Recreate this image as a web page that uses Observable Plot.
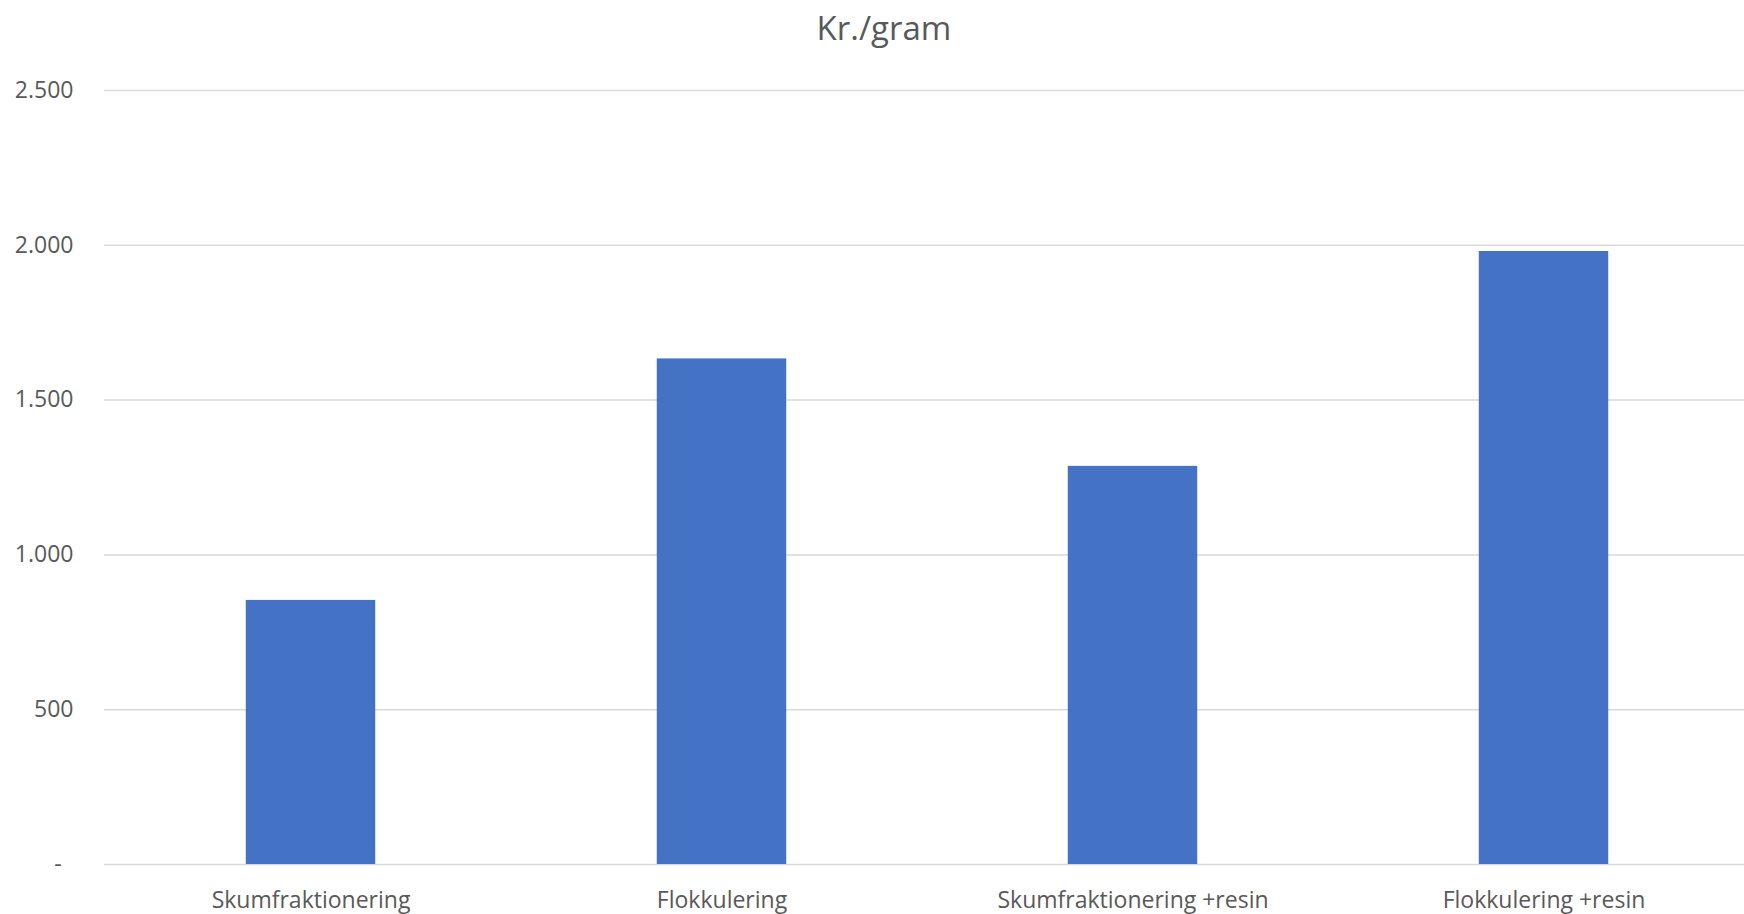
<!DOCTYPE html>
<html>
<head>
<meta charset="utf-8">
<script src="https://cdn.jsdelivr.net/npm/d3@7"></script>
<script src="https://cdn.jsdelivr.net/npm/@observablehq/plot@0.6"></script>
<style>
  html, body { margin: 0; padding: 0; background: #ffffff; }
  #title {
    width: 1744px; height: 56px; box-sizing: border-box;
    padding-left: 24px; text-align: center;
    font-family: "Open Sans", sans-serif; font-size: 33px; line-height: 56px;
    color: #595959;
  }
</style>
</head>
<body>
<div id="title">Kr./gram</div>
<div id="chart"></div>
<script>
const categories = ["Skumfraktionering", "Flokkulering", "Skumfraktionering +resin", "Flokkulering +resin"];
const values = [853, 1633, 1286, 1980];
const yTicks = [0, 500, 1000, 1500, 2000, 2500];

const data = categories.map((c, i) => ({category: c, value: values[i]}));
const fmt = d => d === 0 ? "-\u00a0\u00a0" : d3.format(",")(d).replace(/,/g, ".");

const chart = Plot.plot({
  width: 1744,
  height: 858,
  marginTop: 34,
  marginBottom: 50,
  marginLeft: 104,
  marginRight: 0,
  style: {fontFamily: "Open Sans, sans-serif", fontSize: "23px", color: "#595959", background: "#ffffff"},
  x: {domain: categories, range: [105, 1749], round: false, paddingInner: 0.685, paddingOuter: 0.3425, align: 0.5, label: null},
  y: {domain: [0, 2500], label: null},
  marks: [
    Plot.ruleY(yTicks, {stroke: "#D9D9D9", strokeWidth: 1.5}),
    Plot.barY(data, {x: "category", y: "value", fill: "#4472C4"}),
    Plot.axisY({ticks: yTicks, tickFormat: fmt, tickSize: 0, tickPadding: 31, label: null, fill: "#595959"}),
    Plot.axisX({tickSize: 0, tickPadding: 27, label: null, fill: "#595959"})
  ]
});
document.getElementById("chart").appendChild(chart);
</script>
</body>
</html>
